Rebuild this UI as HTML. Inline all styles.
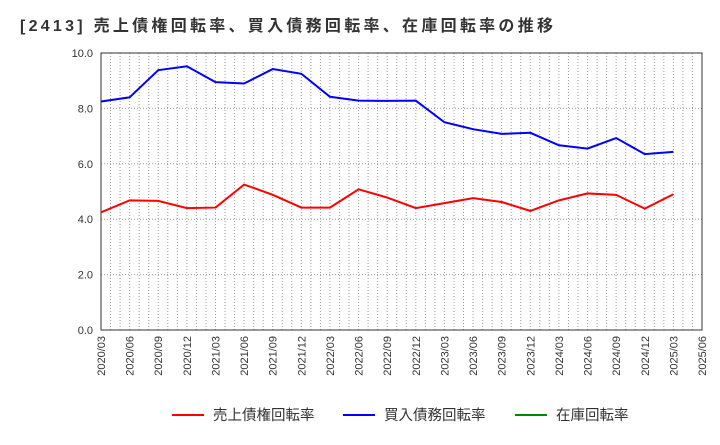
<!DOCTYPE html>
<html><head><meta charset="utf-8"><style>
body{margin:0;background:#fff;font-family:"Liberation Sans","Noto Sans CJK JP",sans-serif;}
</style></head><body>
<svg id="c" width="720" height="440" xmlns="http://www.w3.org/2000/svg"></svg>
<script>
const categories=["2020/03","2020/06","2020/09","2020/12","2021/03","2021/06","2021/09","2021/12","2022/03","2022/06","2022/09","2022/12","2023/03","2023/06","2023/09","2023/12","2024/03","2024/06","2024/09","2024/12","2025/03","2025/06"];
const receivables=[4.25,4.68,4.66,4.4,4.42,5.25,4.88,4.42,4.42,5.08,4.78,4.4,4.58,4.76,4.62,4.3,4.68,4.93,4.88,4.38,4.9];
const payables=[8.25,8.4,9.38,9.52,8.95,8.9,9.42,9.25,8.42,8.28,8.27,8.28,7.5,7.25,7.08,7.12,6.67,6.55,6.93,6.35,6.43];
const yTicks=[0,2,4,6,8,10];
const yTickLabels=["0.0","2.0","4.0","6.0","8.0","10.0"];
const svg=document.getElementById('c');const NS="http://www.w3.org/2000/svg";
const L=101,R=702,T=53,B=330;
const x=i=>L+(R-L)*i/(categories.length-1);
const y=v=>B-(B-T)*v/10;
function el(t,a,p){const e=document.createElementNS(NS,t);for(const k in a)e.setAttribute(k,a[k]);(p||svg).appendChild(e);return e;}
let e=el('text',{x:20,y:31,'font-size':16,'font-weight':'bold',fill:'#333',textLength:533,lengthAdjust:'spacing'});e.textContent="[2413]  売上債権回転率、買入債務回転率、在庫回転率の推移";


for(let m=1;m<63;m++){const xx=L+(R-L)*m/63;e=el('line',{x1:xx,x2:xx,y1:T,y2:B,stroke:'#999','stroke-dasharray':'1,2','stroke-width':1});

}
yTicks.forEach((v,i)=>{if(v>0&&v<10){e=el('line',{x1:L,x2:R,y1:y(v),y2:y(v),stroke:'#999','stroke-dasharray':'1,2'});

}
e=el('text',{x:L-8,y:y(v)+4,'font-size':11,'text-anchor':'end',fill:'#333'});e.textContent=yTickLabels[i];

});
e=el('rect',{x:L,y:T,width:R-L,height:B-T,fill:'none',stroke:'#333'});


categories.forEach((c,i)=>{e=el('text',{'font-size':11,fill:'#333','text-anchor':'end',transform:`translate(${x(i)+4},${B+6}) rotate(-90)`});e.textContent=c;

});
function line(d,col,name){e=el('polyline',{points:d.map((v,i)=>x(i)+','+y(v)).join(' '),fill:'none',stroke:col,'stroke-width':2});

}
line(receivables,'#f00','receivables-line');line(payables,'#00f','payables-line');
[["売上債権回転率","#f00",172],["買入債務回転率","#00f",343],["在庫回転率","#080",515]].forEach(([t,c,lx])=>{
const g=el('g',{});

el('line',{x1:lx,x2:lx+32,y1:415,y2:415,stroke:c,'stroke-width':2},g);
const tx=el('text',{x:lx+41,y:420,'font-size':14.5,fill:'#333'},g);tx.textContent=t;});
</script>
</body></html>
